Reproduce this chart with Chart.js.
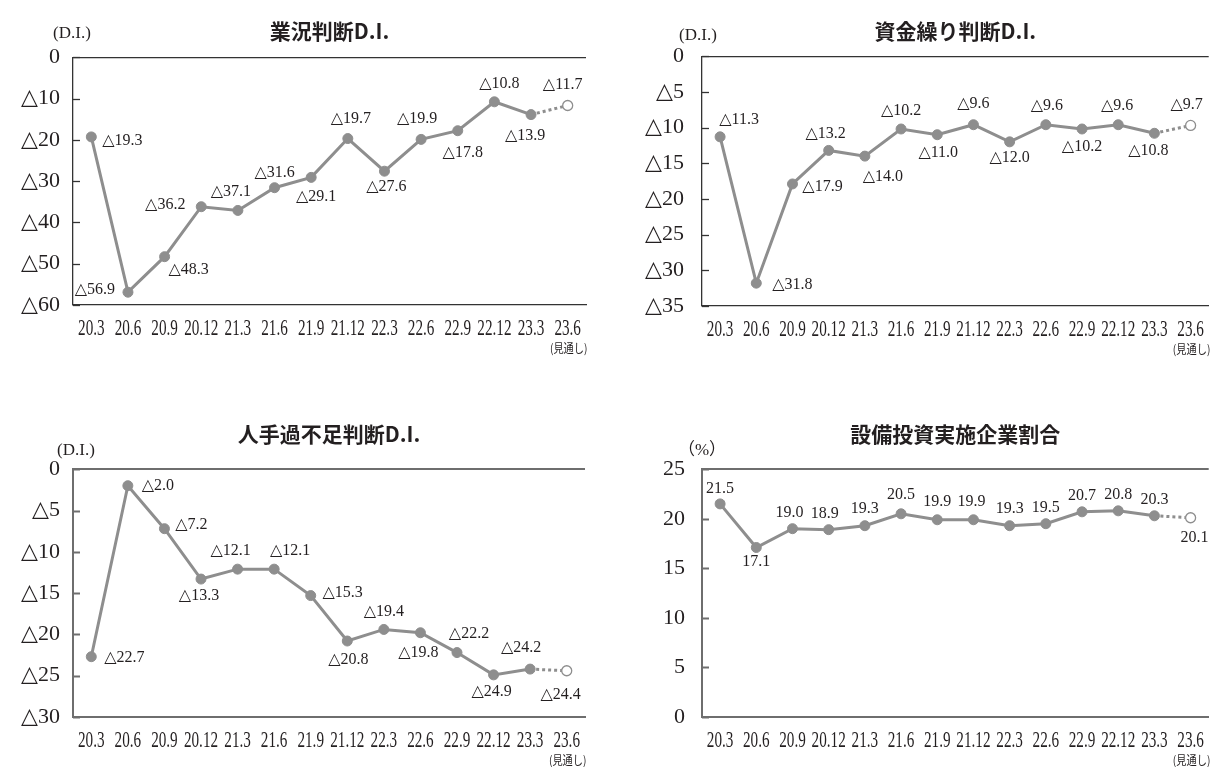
<!DOCTYPE html>
<html>
<head>
<meta charset="utf-8">
<script src="https://cdn.jsdelivr.net/npm/chart.js@4.4.0/dist/chart.umd.min.js"></script>
<style>
  body { margin: 0; background: #fff; width: 1215px; height: 767px; position: relative; overflow: hidden; }
  canvas { position: absolute; }
</style>
</head>
<body>
<canvas id="c1" width="607" height="383" style="left:0;top:0"></canvas>
<canvas id="c2" width="608" height="383" style="left:607px;top:0"></canvas>
<canvas id="c3" width="607" height="367" style="left:0;top:400px"></canvas>
<canvas id="c4" width="608" height="367" style="left:607px;top:400px"></canvas>
<script>
// survey quarters (x axis)
var periods = ['20.3','20.6','20.9','20.12','21.3','21.6','21.9','21.12','22.3','22.6','22.9','22.12','23.3','23.6'];
var forecastNote = '(見通し)';

// series values (negative = △)
var businessDI = [-19.3,-56.9,-48.3,-36.2,-37.1,-31.6,-29.1,-19.7,-27.6,-19.9,-17.8,-10.8,-13.9,-11.7];
var fundingDI  = [-11.3,-31.8,-17.9,-13.2,-14.0,-10.2,-11.0,-9.6,-12.0,-9.6,-10.2,-9.6,-10.8,-9.7];
var laborDI    = [-22.7,-2.0,-7.2,-13.3,-12.1,-12.1,-15.3,-20.8,-19.4,-19.8,-22.2,-24.9,-24.2,-24.4];
var capexRate  = [21.5,17.1,19.0,18.9,19.3,20.5,19.9,19.9,19.3,19.5,20.7,20.8,20.3,20.1];

// where each value label sits relative to its point (px)
var businessLabelPos = [[31,4],[-33,-2],[24,13],[-36,-2],[-7,-19],[0,-15],[5,19],[3,-20],[2,16],[-4,-21],[5,22],[5,-18],[-6,21],[-5,-21]];
var fundingLabelPos  = [[19,-17],[36,2],[30,3],[-3,-17],[18,21],[0,-18],[1,18],[0,-21],[0,16],[1,-19],[0,18],[-1,-19],[-6,18],[-4,-21]];
var laborLabelPos    = [[33,1],[30,0],[27,-4],[-2,17],[-7,-18],[16,-18],[32,-3],[1,19],[0,-18],[-2,20],[12,-19],[-2,17],[-9,-21],[-6,24]];
var capexLabelPos    = [[0,-15],[0,14],[-3,-16],[-4,-16],[0,-17],[0,-19],[0,-18],[-2,-18],[0,-17],[0,-16],[0,-16],[0,-16],[0,-16],[4,20]];

var LINE = '#8e8e8e';
var TEXT = '#231f20';

function fmtTick(v) { return v < 0 ? '△' + (-v) : String(v); }
function fmtVal(v) { return v < 0 ? '△' + (-v).toFixed(1) : v.toFixed(1); }

var decor = {
  id: 'decor',
  beforeDatasetsDraw: function (chart, args, o) {
    var ctx = chart.ctx, ys = chart.scales.y, a = chart.chartArea;
    ctx.save();
    ctx.strokeStyle = o.axis;
    ctx.lineWidth = o.axisW;
    ys.ticks.forEach(function (t, i) {
      var y = Math.round(ys.getPixelForTick(i)) + 0.5;
      ctx.beginPath();
      ctx.moveTo(a.left, y);
      ctx.lineTo(a.left + 7, y);
      ctx.stroke();
    });
    ctx.restore();
  },
  afterDatasetsDraw: function (chart, args, o) {
    var ctx = chart.ctx, a = chart.chartArea, xs = chart.scales.x;
    var values = chart.data.datasets[0].data;
    var pts = chart.getDatasetMeta(0).data;
    ctx.save();
    ctx.fillStyle = TEXT;
    ctx.textAlign = 'center';
    ctx.textBaseline = 'middle';
    // value labels
    ctx.font = '16px "Liberation Serif", "DejaVu Serif", serif';
    pts.forEach(function (p, i) {
      var off = o.labelPos[i];
      ctx.fillText(fmtVal(values[i]), p.x + off[0], p.y + off[1]);
    });
    // category labels, narrow mincho-like
    ctx.font = '23px "Liberation Serif", serif';
    chart.data.labels.forEach(function (lab, i) {
      ctx.save();
      ctx.translate(xs.getPixelForTick(i), a.bottom + 24);
      ctx.scale(0.66, 1);
      ctx.fillText(lab, 0, 0);
      ctx.restore();
    });
    // forecast note under the last quarter
    ctx.font = '12px "Noto Sans CJK JP", sans-serif';
    ctx.save();
    ctx.translate(xs.getPixelForTick(chart.data.labels.length - 1) + 1, a.bottom + 43);
    ctx.scale(0.85, 1);
    ctx.fillText(forecastNote, 0, 0);
    ctx.restore();
    // unit
    ctx.font = '17px "Liberation Serif", "Noto Sans CJK JP", serif';
    ctx.fillText(o.unit, a.left + o.unitDx, a.top + o.unitDy);
    ctx.restore();
  }
};

function makeChart(id, title, values, labelPos, o) {
  var last = values.length - 1;
  return new Chart(document.getElementById(id), {
    type: 'line',
    data: {
      labels: periods,
      datasets: [{
        data: values,
        borderColor: LINE,
        borderWidth: 3,
        tension: 0,
        pointRadius: 5,
        pointHoverRadius: 5,
        pointBackgroundColor: values.map(function (v, i) { return i === last ? '#fff' : LINE; }),
        pointBorderColor: LINE,
        pointBorderWidth: values.map(function (v, i) { return i === last ? 1.3 : 1; }),
        segment: {
          borderDash: function (c) { return c.p1DataIndex === last ? [3, 3] : undefined; }
        }
      }]
    },
    options: {
      responsive: false,
      animation: false,
      devicePixelRatio: 1,
      layout: { padding: { left: 0, right: o.padRight, top: 0, bottom: 0 } },
      plugins: {
        legend: { display: false },
        tooltip: { enabled: false },
        title: {
          display: true,
          text: title,
          fullSize: false,
          color: TEXT,
          font: { family: '"Noto Sans CJK JP", sans-serif', weight: 'bold', size: 21, lineHeight: 1.2 },
          padding: { top: o.titleTop, bottom: o.titleBottom }
        },
        decor: { unit: o.unit, unitDx: o.unitDx, unitDy: o.unitDy, labelPos: labelPos, axis: o.axis, axisW: o.axisW }
      },
      scales: {
        x: {
          offset: true,
          grid: { drawOnChartArea: false, drawTicks: false, offset: true },
          border: { color: o.axis, width: o.axisW },
          ticks: { display: false },
          afterFit: function (s) { s.height = o.xHeight; }
        },
        y: {
          min: o.min,
          max: o.max,
          ticks: {
            stepSize: o.step,
            padding: o.tickPad,
            color: TEXT,
            font: { family: '"Liberation Serif", "DejaVu Serif", serif', size: 22 },
            callback: function (v) { return fmtTick(v); }
          },
          grid: {
            drawTicks: false,
            lineWidth: o.axisW,
            color: function (c) { return c.tick && c.tick.value === o.max ? o.axis : 'rgba(0,0,0,0)'; }
          },
          border: { color: o.axis, width: o.axisW },
          afterFit: function (s) { s.width = o.yWidth; }
        }
      }
    },
    plugins: [decor]
  });
}

makeChart('c1', '業況判断D.I.', businessDI, businessLabelPos, {
  min: -60, max: 0, step: 10, unit: '(D.I.)', unitDx: -1, unitDy: -24,
  yWidth: 73, padRight: 21, xHeight: 78, titleTop: 18, titleBottom: 14, tickPad: 13, axis: '#333', axisW: 1.3
});
makeChart('c2', '資金繰り判断D.I.', fundingDI, fundingLabelPos, {
  min: -35, max: 0, step: 5, unit: '(D.I.)', unitDx: -4, unitDy: -21,
  yWidth: 95, padRight: 2, xHeight: 77, titleTop: 18, titleBottom: 13, tickPad: 18, axis: '#333', axisW: 1.3
});
makeChart('c3', '人手過不足判断D.I.', laborDI, laborLabelPos, {
  min: -30, max: 0, step: 5, unit: '(D.I.)', unitDx: 3, unitDy: -19,
  yWidth: 73, padRight: 22, xHeight: 50, titleTop: 21, titleBottom: 23, tickPad: 13, axis: '#6e6e6e', axisW: 2
});
makeChart('c4', '設備投資実施企業割合', capexRate, capexLabelPos, {
  min: 0, max: 25, step: 5, unit: '（%）', unitDx: 0, unitDy: -19,
  yWidth: 95, padRight: 2, xHeight: 50, titleTop: 21, titleBottom: 23, tickPad: 17, axis: '#6e6e6e', axisW: 2
});
</script>
</body>
</html>
